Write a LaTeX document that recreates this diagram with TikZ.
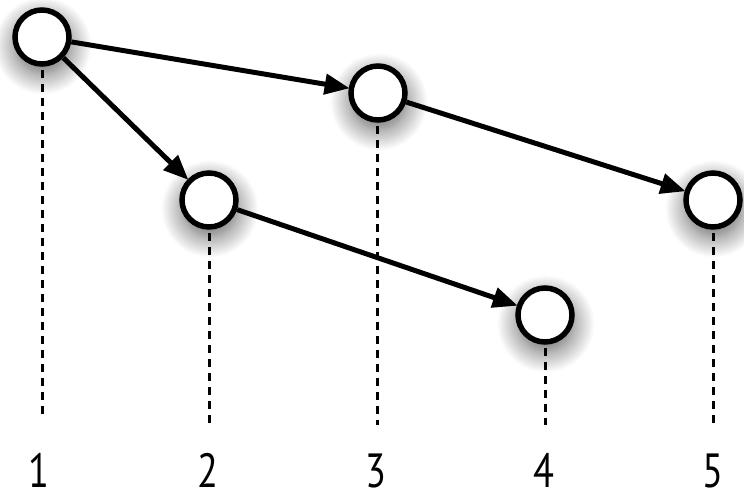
\documentclass[tikz,border=0pt]{standalone}
\usepackage{fontspec}
\setmainfont[FakeStretch=0.8]{PT Sans}
\usetikzlibrary{arrows.meta,shadows.blur}
\tikzset{
  vtx/.style={circle, draw=black, fill=white, line width=5.5pt, minimum size=54pt, inner sep=0pt,
    blur shadow={shadow xshift=1pt, shadow yshift=-9pt, shadow blur radius=22pt, shadow opacity=65, shadow blur steps=20}},
  link/.style={line width=5pt, -{Triangle[length=25pt,width=20pt]}, shorten >=-1pt},
  guide/.style={line width=3pt, dash pattern=on 8pt off 6pt},
  lbl/.style={font=\fontsize{48}{48}\selectfont, anchor=base, inner sep=0pt}
}
\begin{document}
\begin{tikzpicture}[x=1pt,y=-1pt]
\useasboundingbox (0,0) rectangle (744,503);
% guides
\coordinate (g1) at (42,418);
\coordinate (g2) at (209,425);
\coordinate (g3) at (377,425);
\coordinate (g4) at (545,425);
\coordinate (g5) at (713,425);
\draw[guide] (42,70) -- (g1);
\draw[guide] (209,233) -- (g2);
\draw[guide] (377,126) -- (g3);
\draw[guide] (545,348) -- (g4);
\draw[guide] (713,233) -- (g5);
% nodes
\node[vtx] (n1) at (42,37) {};
\node[vtx] (n3) at (378,93) {};
\node[vtx] (n2) at (209,200) {};
\node[vtx] (n4) at (545,315) {};
\node[vtx] (n5) at (713,200) {};
% links
\draw[link] (n1) -- (n3);
\draw[link] (n1) -- (n2);
\draw[link] (n2) -- (n4);
\draw[link] (n3) -- (n5);
% labels
\node[lbl] (l1) at (39,487) {1};
\node[lbl] (l2) at (208,487) {2};
\node[lbl] (l3) at (376,487) {3};
\node[lbl] (l4) at (544,487) {4};
\node[lbl] (l5) at (713,487) {5};
\end{tikzpicture}
\end{document}
